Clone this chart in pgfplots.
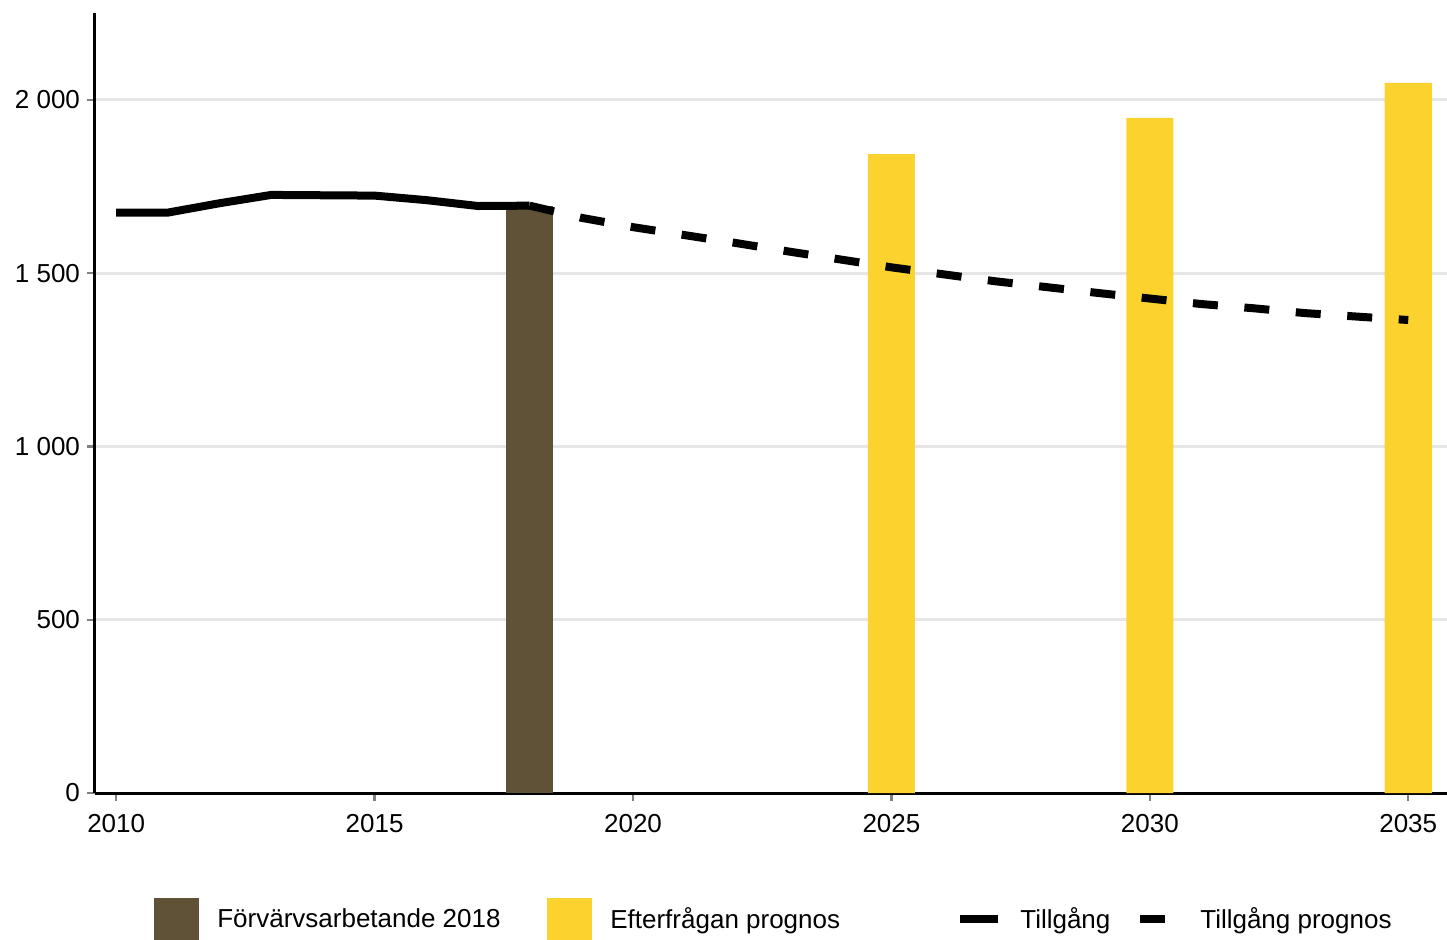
\documentclass[border=0pt]{standalone}
\usepackage{fontspec}
\setmainfont{Liberation Sans}
\usepackage{pgfplots}
\pgfplotsset{compat=1.18}
\definecolor{brownbar}{RGB}{96,82,54}
\definecolor{yellowbar}{RGB}{252,210,46}
\definecolor{gridgray}{RGB}{230,230,230}
\definecolor{tickgray}{RGB}{128,128,128}
\begin{document}
\begin{tikzpicture}
\useasboundingbox (-47.5pt,-73pt) rectangle (676pt,396.5pt);
\begin{axis}[
  at={(0,0)}, anchor=south west,
  scale only axis, width=676pt, height=390pt,
  xmin=2009.59, xmax=2035.75, ymin=0, ymax=2251,
  axis x line=bottom, axis y line=left,
  axis line style={-, line width=1.5pt, black},
  xtick={2010,2015,...,2035},
  ytick={0,500,...,2000},
  tick align=outside,
  major tick length=4pt,
  tick style={tickgray, line width=1.2pt},
  ymajorgrids, grid style={gridgray, line width=1.5pt},
  font=\fontsize{13}{15}\selectfont,
  /pgf/number format/assume math mode=true,
  xticklabel style={/pgf/number format/1000 sep={}, yshift=-3pt},
  yticklabel style={/pgf/number format/1000 sep={\ }},
  legend columns=4,
  legend cell align=left,
  legend style={at={(rel axis cs:0.0436,-0.162)}, anchor=west, draw=none, fill=none,
    inner sep=0pt, font=\fontsize{13}{15}\selectfont,
    nodes={inner sep=0pt},
    /tikz/every odd column/.append style={column sep=9pt}},
]
\addplot[ybar, bar width=23.5pt, fill=brownbar, draw=none,
  legend image code/.code={\fill[brownbar] (0pt,-10.5pt) rectangle (22.5pt,10.5pt);}]
  coordinates {(2018,1694)};
\addlegendentry{\makebox[165pt][l]{Förvärvsarbetande 2018}}
\addplot[ybar, bar width=23.5pt, fill=yellowbar, draw=none,
  legend image code/.code={\fill[yellowbar] (0pt,-10.5pt) rectangle (22.5pt,10.5pt);}]
  coordinates {(2025,1844) (2030,1948) (2035,2049)};
\addlegendentry{\makebox[173pt][l]{Efterfrågan prognos}}
\addplot[black, line width=4pt, line join=miter,
  legend image code/.code={\draw[black, line width=4pt] (0pt,0pt) -- (19pt,0pt);}]
  coordinates {(2010,1675) (2011,1675) (2012,1702) (2013,1726) (2014,1725) (2015,1724) (2016,1711) (2017,1694) (2018,1695)};
\addlegendentry{\makebox[58pt][l]{Tillgång}}
\addplot[black, line width=4pt, dash pattern=on 12.5pt off 13.3pt,
  legend image code/.code={\draw[black, line width=4pt, dash pattern=on 12.5pt off 13.3pt] (0pt,0pt) -- (19pt,0pt);}]
  coordinates {(2018,1695) (2019,1660) (2020,1633) (2021,1610) (2022,1587) (2023,1563) (2024,1540) (2025,1517)
   (2026,1497) (2027,1477) (2028,1460) (2029,1443) (2030,1427) (2031,1411) (2032,1399) (2033,1385) (2034,1375) (2035,1365)};
\addlegendentry{Tillgång prognos}
\end{axis}
\end{tikzpicture}
\end{document}
